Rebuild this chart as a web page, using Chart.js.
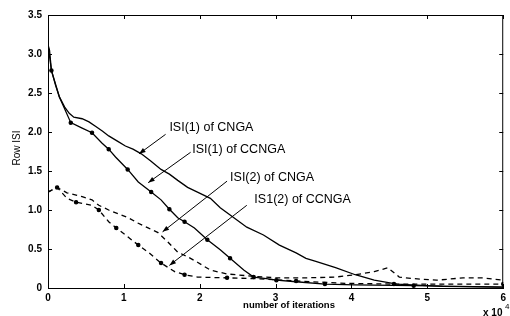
<!DOCTYPE html>
<html>
<head>
<meta charset="utf-8">
<title>Row ISI vs iterations</title>
<script src="https://cdn.jsdelivr.net/npm/chart.js"></script>
<style>
  html, body { margin: 0; padding: 0; background: #fff; }
  #wrap { width: 510px; height: 316px; }
</style>
</head>
<body>
<div id="wrap"><canvas id="isiChart" width="510" height="316"></canvas></div>
<script>
// iterations (x 10^4) and Row ISI values
const cngaIsi1X = [0, 0.02, 0.045, 0.1, 0.15, 0.22, 0.28, 0.34, 0.45, 0.54, 0.63, 0.72, 0.8, 0.92, 1.02, 1.12, 1.23, 1.35, 1.49, 1.6, 1.71, 1.84, 1.97, 2.14, 2.27, 2.45, 2.62, 2.84, 3.05, 3.27, 3.4, 3.53, 3.79, 4.05, 4.3, 4.6, 5.2, 6];
const cngaIsi1Y = [3.12, 3.05, 2.79, 2.6, 2.45, 2.32, 2.24, 2.19, 2.17, 2.13, 2.07, 2.01, 1.95, 1.88, 1.82, 1.78, 1.72, 1.63, 1.52, 1.46, 1.38, 1.29, 1.23, 1.15, 1.03, 0.90, 0.78, 0.68, 0.55, 0.45, 0.38, 0.34, 0.26, 0.17, 0.10, 0.05, 0.02, 0.01];

const ccngaIsi1X = [0, 0.045, 0.15, 0.3, 0.45, 0.58, 0.71, 0.8, 0.89, 1.05, 1.19, 1.36, 1.49, 1.6, 1.71, 1.8, 1.93, 2.1, 2.27, 2.4, 2.58, 2.71, 2.88, 3.01, 3.27, 3.65, 4.04, 4.82, 6];
const ccngaIsi1Y = [3.12, 2.79, 2.45, 2.12, 2.05, 1.99, 1.86, 1.78, 1.68, 1.52, 1.36, 1.23, 1.13, 1.01, 0.90, 0.85, 0.77, 0.62, 0.49, 0.38, 0.23, 0.14, 0.12, 0.10, 0.08, 0.05, 0.04, 0.03, 0.01];

const cngaIsi2X = [0, 0.12, 0.25, 0.45, 0.58, 0.67, 0.8, 0.93, 1.06, 1.19, 1.32, 1.45, 1.58, 1.71, 1.84, 1.97, 2.14, 2.36, 2.71, 3.01, 3.4, 3.79, 4.05, 4.3, 4.48, 4.63, 4.82, 5.12, 5.47, 5.73, 6];
const cngaIsi2Y = [1.23, 1.29, 1.22, 1.17, 1.13, 1.06, 1.0, 0.95, 0.9, 0.83, 0.77, 0.71, 0.59, 0.46, 0.40, 0.33, 0.23, 0.18, 0.15, 0.13, 0.13, 0.14, 0.17, 0.21, 0.26, 0.14, 0.12, 0.10, 0.13, 0.13, 0.10];

const ccngaIsi2X = [0, 0.12, 0.25, 0.37, 0.58, 0.67, 0.8, 0.9, 1.02, 1.19, 1.32, 1.49, 1.67, 1.8, 1.97, 2.36, 2.75, 3.27, 3.92, 4.56, 5.21, 6];
const ccngaIsi2Y = [1.23, 1.29, 1.15, 1.10, 1.06, 1.0, 0.85, 0.77, 0.68, 0.55, 0.46, 0.32, 0.21, 0.17, 0.14, 0.13, 0.12, 0.09, 0.06, 0.05, 0.05, 0.05];

const xTicks = [0, 1, 2, 3, 4, 5, 6];
const yTicks = [0, 0.5, 1, 1.5, 2, 2.5, 3, 3.5];

// callout labels: text, text anchor, arrow start, arrow tip (data units)
const calloutText = ['ISI(1) of CNGA', 'ISI(1) of CCNGA', 'ISI(2) of CNGA', 'IS1(2) of CCNGA'];
const calloutAt = [[1.6, 2.06], [1.9, 1.77], [2.4, 1.42], [2.72, 1.14]];
const arrowFrom = [[1.55, 1.97], [1.88, 1.74], [2.36, 1.37], [2.62, 1.06]];
const arrowTo = [[1.2, 1.72], [1.32, 1.35], [1.51, 0.72], [1.6, 0.29]];

function toPoints(xs, ys) {
    return xs.map((x, i) => ({ x: x, y: ys[i] }));
}

const FONT = '"Liberation Sans", Arial, sans-serif';

// MATLAB style box with inward ticks, labels, callouts
const framePlugin = {
    id: 'frame',
    afterDraw(chart) {
        const ctx = chart.ctx;
        const a = chart.chartArea;
        const xs = chart.scales.x, ys = chart.scales.y;
        ctx.save();
        ctx.strokeStyle = '#000';
        ctx.lineWidth = 1;
        ctx.beginPath();
        ctx.moveTo(a.left, a.top + 0.5); ctx.lineTo(a.right, a.top + 0.5);
        ctx.moveTo(a.right - 0.5, a.top); ctx.lineTo(a.right - 0.5, a.bottom);
        xTicks.forEach(v => {
            const px = Math.round(xs.getPixelForValue(v)) + 0.5;
            ctx.moveTo(px, a.bottom); ctx.lineTo(px, a.bottom - 4);
            ctx.moveTo(px, a.top); ctx.lineTo(px, a.top + 4);
        });
        yTicks.forEach(v => {
            const py = Math.round(ys.getPixelForValue(v)) + 0.5;
            ctx.moveTo(a.left, py); ctx.lineTo(a.left + 4, py);
            ctx.moveTo(a.right, py); ctx.lineTo(a.right - 4, py);
        });
        ctx.stroke();

        // callout arrows
        ctx.lineWidth = 1;
        ctx.fillStyle = '#000';
        arrowFrom.forEach((f, i) => {
            const x0 = xs.getPixelForValue(f[0]), y0 = ys.getPixelForValue(f[1]);
            const x1 = xs.getPixelForValue(arrowTo[i][0]), y1 = ys.getPixelForValue(arrowTo[i][1]);
            ctx.beginPath();
            ctx.moveTo(x0, y0); ctx.lineTo(x1, y1);
            ctx.stroke();
            const ang = Math.atan2(y1 - y0, x1 - x0);
            ctx.beginPath();
            ctx.moveTo(x1, y1);
            ctx.lineTo(x1 - 7 * Math.cos(ang - 0.35), y1 - 7 * Math.sin(ang - 0.35));
            ctx.lineTo(x1 - 7 * Math.cos(ang + 0.35), y1 - 7 * Math.sin(ang + 0.35));
            ctx.closePath();
            ctx.fill();
        });

        ctx.font = '12.5px ' + FONT;
        ctx.textBaseline = 'middle';
        ctx.textAlign = 'left';
        calloutText.forEach((t, i) => {
            ctx.fillText(t, xs.getPixelForValue(calloutAt[i][0]), ys.getPixelForValue(calloutAt[i][1]));
        });

        // axis titles
        ctx.font = 'bold 9.5px ' + FONT;
        ctx.textAlign = 'center';
        ctx.fillText('number of iterations', 289, 305);
        ctx.textAlign = 'left';
        ctx.font = 'bold 10px ' + FONT;
        ctx.fillText('x 10', 483, 313);
        ctx.font = '8px ' + FONT;
        ctx.fillText('4', 505, 307);

        ctx.translate(17, 148);
        ctx.rotate(-Math.PI / 2);
        ctx.textAlign = 'center';
        ctx.font = '10px ' + FONT;
        ctx.fillText('Row ISI', 0, 0);
        ctx.restore();
    }
};

const dotEvery = c => (c.dataIndex % 2 === 1 ? 1.6 : 0);

new Chart(document.getElementById('isiChart').getContext('2d'), {
    type: 'scatter',
    data: {
        datasets: [
            { label: 'ISI(1) of CNGA', data: toPoints(cngaIsi1X, cngaIsi1Y), showLine: true,
              borderColor: '#000', borderWidth: 1.3, pointRadius: 0, tension: 0 },
            { label: 'ISI(1) of CCNGA', data: toPoints(ccngaIsi1X, ccngaIsi1Y), showLine: true,
              borderColor: '#000', backgroundColor: '#000', borderWidth: 1.3, pointRadius: dotEvery, tension: 0 },
            { label: 'ISI(2) of CNGA', data: toPoints(cngaIsi2X, cngaIsi2Y), showLine: true,
              borderColor: '#000', borderWidth: 1.3, borderDash: [5, 4], pointRadius: 0, tension: 0 },
            { label: 'IS1(2) of CCNGA', data: toPoints(ccngaIsi2X, ccngaIsi2Y), showLine: true,
              borderColor: '#000', backgroundColor: '#000', borderWidth: 1.3, borderDash: [5, 4], pointRadius: dotEvery, tension: 0 }
        ]
    },
    options: {
        responsive: false,
        animation: false,
        layout: { padding: { top: 15, right: 1, left: 0, bottom: 0 } },
        plugins: { legend: { display: false }, tooltip: { enabled: false } },
        scales: {
            x: {
                type: 'linear', min: 0, max: 6,
                afterFit: s => { s.height = 28; },
                afterBuildTicks: s => { s.ticks = xTicks.map(v => ({ value: v })); },
                grid: { display: false, drawTicks: false },
                border: { display: true, color: '#000', width: 1 },
                ticks: { padding: 4, color: '#000', font: { family: FONT, size: 10, weight: 'bold' }, maxRotation: 0 }
            },
            y: {
                type: 'linear', min: 0, max: 3.5,
                afterFit: s => { s.width = 48; },
                afterBuildTicks: s => { s.ticks = yTicks.map(v => ({ value: v })); },
                grid: { display: false, drawTicks: false },
                border: { display: true, color: '#000', width: 1 },
                ticks: { padding: 6, color: '#000', font: { family: FONT, size: 10, weight: 'bold' } }
            }
        }
    },
    plugins: [framePlugin]
});
</script>
</body>
</html>
